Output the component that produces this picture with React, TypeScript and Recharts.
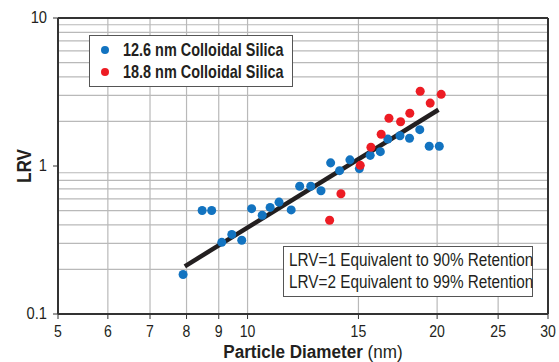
import {
  CartesianGrid,
  ReferenceLine,
  Scatter,
  ScatterChart,
  XAxis,
  YAxis,
  Label,
} from 'recharts';

const FONT = "'Liberation Sans', Arial, sans-serif";
const TEXT = '#231f20';

const xTicks = [5, 6, 7, 8, 9, 10, 15, 20, 25, 30];
const yTicks = [0.1, 1, 10];
const xGrid = [6, 7, 8, 9, 10, 15, 20, 25];
const yGrid = [0.2, 0.3, 0.4, 0.5, 0.6, 0.7, 0.8, 0.9, 2, 3, 4, 5, 6, 7, 8, 9];

// 12.6 nm colloidal silica
const silica126 = [
  { d: 7.9, lrv: 0.185 },
  { d: 8.47, lrv: 0.5 },
  { d: 8.77, lrv: 0.5 },
  { d: 9.1, lrv: 0.305 },
  { d: 9.44, lrv: 0.345 },
  { d: 9.79, lrv: 0.315 },
  { d: 10.15, lrv: 0.515 },
  { d: 10.55, lrv: 0.465 },
  { d: 10.86, lrv: 0.525 },
  { d: 11.22, lrv: 0.57 },
  { d: 11.73, lrv: 0.505 },
  { d: 12.1, lrv: 0.73 },
  { d: 12.6, lrv: 0.73 },
  { d: 13.08, lrv: 0.68 },
  { d: 13.55, lrv: 1.05 },
  { d: 14.0, lrv: 0.93 },
  { d: 14.54, lrv: 1.1 },
  { d: 15.05, lrv: 0.96 },
  { d: 15.66, lrv: 1.18 },
  { d: 16.25, lrv: 1.25 },
  { d: 16.7, lrv: 1.52 },
  { d: 17.46, lrv: 1.6 },
  { d: 18.08, lrv: 1.54 },
  { d: 18.77, lrv: 1.76 },
  { d: 19.43, lrv: 1.36 },
  { d: 20.16, lrv: 1.36 },
];

// 18.8 nm colloidal silica
const silica188 = [
  { d: 13.5, lrv: 0.43 },
  { d: 14.07, lrv: 0.65 },
  { d: 15.1, lrv: 1.01 },
  { d: 15.7, lrv: 1.34 },
  { d: 16.3, lrv: 1.64 },
  { d: 16.77, lrv: 2.1 },
  { d: 17.5, lrv: 1.99 },
  { d: 18.1, lrv: 2.27 },
  { d: 18.8, lrv: 3.2 },
  { d: 19.5, lrv: 2.66 },
  { d: 20.3, lrv: 3.05 },
];

const fitLine = [
  { x: 7.95, y: 0.21 },
  { x: 20.1, y: 2.4 },
];

const legendItems = [
  { name: '12.6 nm Colloidal Silica', color: '#1273c0' },
  { name: '18.8 nm Colloidal Silica', color: '#ed1c24' },
];

const notes = ['LRV=1 Equivalent to 90% Retention', 'LRV=2 Equivalent to 99% Retention'];

function XTick(props: any) {
  const { x, y, payload } = props;
  return (
    <g transform={`translate(${x},${y + 16}) scale(0.88,1)`}>
      <text textAnchor="middle" fontFamily={FONT} fontSize={16} fill={TEXT}>
        {payload.value}
      </text>
    </g>
  );
}

function YTick(props: any) {
  const { x, y, payload } = props;
  return (
    <g transform={`translate(${x - 4},${y + 5}) scale(0.92,1)`}>
      <text textAnchor="end" fontFamily={FONT} fontSize={16} fill={TEXT}>
        {payload.value}
      </text>
    </g>
  );
}

function XTitle(props: any) {
  const vb = props.viewBox;
  return (
    <g transform={`translate(${vb.x + vb.width / 2 + 10},${vb.y + 44}) scale(0.9,1)`}>
      <text textAnchor="middle" fontFamily={FONT} fontSize={19} fill={TEXT}>
        <tspan fontWeight="bold">Particle Diameter</tspan>
        <tspan> (nm)</tspan>
      </text>
    </g>
  );
}

function YTitle(props: any) {
  const vb = props.viewBox;
  return (
    <g transform={`translate(31,${vb.y + vb.height / 2}) rotate(-90) scale(0.82,1)`}>
      <text textAnchor="middle" fontFamily={FONT} fontSize={21} fontWeight="bold" fill={TEXT}>
        LRV
      </text>
    </g>
  );
}

const squeezed = (s: number) => ({
  display: 'inline-block',
  whiteSpace: 'nowrap' as const,
  transform: `scaleX(${s})`,
  transformOrigin: 'left center',
});

export default function App() {
  return (
    <div style={{ position: 'absolute', left: 0, top: 0, width: 559, height: 362, background: '#fff', fontFamily: FONT }}>
      <ScatterChart width={559} height={362} margin={{ top: 18, right: 11, bottom: 0, left: 0 }}>
        <CartesianGrid stroke="none" />
        {xGrid.map((v) => (
          <ReferenceLine key={'x' + v} x={v} stroke="#b9b9b9" strokeWidth={1.2} />
        ))}
        {yGrid.map((v) => (
          <ReferenceLine key={'y' + v} y={v} stroke="#b9b9b9" strokeWidth={1.2} />
        ))}
        <XAxis
          type="number"
          dataKey="d"
          scale="log"
          domain={[5, 30]}
          ticks={xTicks}
          allowDataOverflow
          height={48}
          axisLine={{ stroke: '#333', strokeWidth: 2 }}
          tickLine={{ stroke: '#333' }}
          tickSize={5}
          tick={<XTick />}
        >
          <Label content={<XTitle />} />
        </XAxis>
        <YAxis
          type="number"
          dataKey="lrv"
          scale="log"
          domain={[0.1, 10]}
          ticks={yTicks}
          allowDataOverflow
          width={58}
          axisLine={{ stroke: '#333', strokeWidth: 2 }}
          tickLine={{ stroke: '#333' }}
          tickSize={5}
          tick={<YTick />}
        >
          <Label content={<YTitle />} />
        </YAxis>
        <ReferenceLine y={10} stroke="#333" strokeWidth={2} />
        <ReferenceLine x={30} stroke="#333" strokeWidth={2} />
        <ReferenceLine segment={fitLine} stroke="#231f20" strokeWidth={4.5} />
        <Scatter data={silica126} fill={legendItems[0].color} shape="circle" isAnimationActive={false} />
        <Scatter data={silica188} fill={legendItems[1].color} shape="circle" isAnimationActive={false} />
      </ScatterChart>
      <div
        style={{
          position: 'absolute',
          left: 89,
          top: 35,
          width: 204,
          height: 52,
          border: '1px solid #555',
          background: '#fff',
          boxSizing: 'border-box',
          padding: '3px 0 0 11px',
        }}
      >
        {legendItems.map((it) => (
          <div key={it.name} style={{ display: 'flex', alignItems: 'center', height: 22, fontSize: 19, fontWeight: 'bold', color: TEXT }}>
            <span style={{ width: 8, height: 8, borderRadius: 4, background: it.color, marginRight: 14, flex: 'none' }} />
            <span style={squeezed(0.76)}>{it.name}</span>
          </div>
        ))}
      </div>
      <div
        style={{
          position: 'absolute',
          left: 283,
          top: 246,
          width: 250,
          height: 51,
          border: '1px solid #555',
          background: '#fff',
          boxSizing: 'border-box',
          padding: '2px 0 0 5px',
          fontSize: 18,
          color: TEXT,
          lineHeight: '22px',
        }}
      >
        {notes.map((n) => (
          <div key={n}>
            <span style={squeezed(0.85)}>{n}</span>
          </div>
        ))}
      </div>
    </div>
  );
}
